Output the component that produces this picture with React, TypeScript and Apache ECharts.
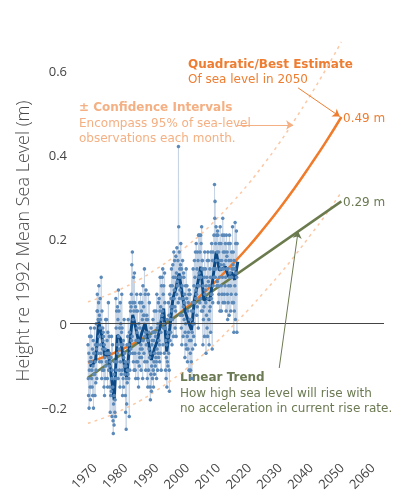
import React, { useEffect, useRef } from "react";
import * as echarts from "echarts";

// Monthly sea level (cm, re 1992 mean), one row per year starting 1968
const firstYear = 1968;
const monthlyCm: number[][] = [
  [-5, -13, -17, -7, -20, -11, -3, -9, -15, -18, -1, -8],
  [-3, -9, -13, -11, -15, -6, -17, -10, -4, -20, -7, -12],
  [-7, -1, -12, -17, -9, -5, -14, -11, 0, -6, -13, 3],
  [7, 3, -5, 1, -7, 5, 9, -3, 2, -9, -1, 6],
  [1, -5, -7, 11, -9, -13, 3, -11, -6, -1, -4, -2],
  [-3, -11, -15, -5, -17, -8, -6, -13, 1, -10, -7, -9],
  [1, -9, -4, -13, -15, -2, -7, 5, -11, -8, -3, -10],
  [-7, -15, -21, -9, -17, -8, -16, -3, -13, -22, -11, -5],
  [-15, -23, -26, -19, -12, -24, -17, -9, -21, -18, -13, -22],
  [6, -1, -11, 3, -9, -5, 4, -7, 1, -13, 8, -3],
  [3, -6, -11, -1, -15, 5, -9, 0, -5, -12, -2, 7],
  [-1, -11, -17, -5, -13, -4, -15, -8, 1, -10, -7, -12],
  [-9, -17, -21, -10, -25, -13, -19, -5, -14, -11, -3, -12],
  [1, -9, -13, -5, -22, -2, -11, 5, -7, 3, -6, 4],
  [7, -4, 14, -3, 17, 5, -7, 1, -9, 11, 3, -11],
  [12, 5, -7, -11, 4, -13, -4, 3, -9, 7, -2, -1],
  [3, -9, -13, -4, -15, 0, -7, -10, 5, -8, -1, -6],
  [7, -5, -11, 3, -8, 5, -6, 1, -13, 9, -4, 2],
  [4, -7, 2, 13, -9, -3, 7, -2, -11, 8, -5, 1],
  [2, -9, -13, 1, -15, -4, 7, -11, -2, -6, 5, -8],
  [-3, -15, -18, -7, -12, -1, -16, -10, -5, -4, -13, -2],
  [1, -11, -15, -4, -9, 3, -12, -7, -2, -10, -3, -8],
  [3, -9, -13, 7, -6, -1, -11, 0, -7, 5, -8, -4],
  [6, -5, -9, 3, 11, -7, 4, -2, -11, 9, 1, 2],
  [11, 3, 13, -5, 7, -1, 9, 0, -7, 12, 5, -1],
  [-1, -11, -4, -13, -8, -5, -15, 1, -9, -3, -10, -2],
  [5, -7, 2, -11, -16, 7, -4, 1, 9, -2, 4, 6],
  [13, 3, -5, 9, 1, 14, 4, 11, -3, 17, 6, 8],
  [15, 4, -1, 11, 3, 16, -3, 12, 7, 18, 9, 10],
  [9, 15, 5, 42, 23, 11, 17, 6, 13, 8, 2, 14],
  [19, 11, -1, 13, -5, 9, 2, 15, 6, -3, 4, 12],
  [11, 1, 5, 7, -8, -2, 9, 0, -5, 13, -6, 6],
  [9, -3, -9, 3, -6, 5, -2, 7, -11, 8, -4, 1],
  [7, -7, -11, 1, -4, -9, 3, -13, -2, 5, -6, 0],
  [13, 3, -3, 9, 0, 15, 5, 11, -5, 17, 6, 8],
  [19, 7, 2, 13, 4, 17, 9, 15, -1, 21, 11, 12],
  [21, 9, 5, 17, 6, 21, 11, 19, 3, 23, 13, 15],
  [15, 3, -5, 9, 1, 13, 4, 11, -3, 17, 7, 8],
  [13, 5, -7, 9, 2, 11, -1, 15, -3, 17, 6, 10],
  [15, 1, -5, 9, 3, 13, 4, 11, -2, 17, 7, 6],
  [19, 7, -6, 15, 5, 17, 9, 13, 11, 21, 13, 33],
  [25, 29, 11, 19, 13, 23, 15, 21, 9, 17, 10, 22],
  [21, 9, 5, 17, 7, 19, 11, 15, 3, 23, 13, 14],
  [19, 9, 3, 15, 7, 21, 11, 25, 5, 17, 13, 14],
  [21, 7, 5, 17, 9, 19, 11, 15, 3, 21, 13, 16],
  [17, 7, 1, 13, 5, 19, 9, 15, 2, 21, 11, 12],
  [19, 9, 3, 15, 7, 17, 11, 13, 5, 23, 13, 14],
  [17, 5, -2, 15, 3, 13, 9, 24, 1, 19, 7, 12],
  [22, 11, -2, 19],
];

// Annual mean sea level (m), 1968..2016
const annualMean = [
  -0.1, -0.098, -0.085, 0.005, -0.03, -0.078, -0.061, -0.12, -0.181, -0.027,
  -0.035, -0.085, -0.127, -0.05, 0.021, -0.01, -0.047, -0.02, 0.001, -0.04,
  -0.086, -0.06, -0.04, 0.0, 0.036, -0.066, -0.01, 0.06, 0.085, 0.119,
  0.07, 0.028, 0.005, -0.015, 0.058, 0.095, 0.135, 0.056, 0.06, 0.056,
  0.11, 0.171, 0.127, 0.13, 0.135, 0.111, 0.122, 0.104, 0.147,
];

// Fitted curves (m)
const fitYears = [1968, 1975, 1980, 1985, 1990, 1995, 2000, 2005, 2010, 2015, 2020, 2025, 2030, 2035, 2040, 2045, 2050];
const quadratic = [-0.092, -0.074, -0.057, -0.038, -0.015, 0.01, 0.039, 0.07, 0.105, 0.143, 0.183, 0.227, 0.273, 0.323, 0.376, 0.431, 0.49];
const upper95 = [0.052, 0.07, 0.087, 0.106, 0.129, 0.154, 0.184, 0.215, 0.251, 0.29, 0.332, 0.379, 0.429, 0.484, 0.542, 0.603, 0.668];
const lower95 = [-0.236, -0.218, -0.201, -0.182, -0.159, -0.134, -0.106, -0.075, -0.041, -0.004, 0.034, 0.075, 0.117, 0.162, 0.21, 0.259, 0.312];
const linearYears = [1968, 2050];
const linearTrend = [-0.128, 0.29];

const xTicks = [1970, 1980, 1990, 2000, 2010, 2020, 2030, 2040, 2050, 2060];
const yTicks = [-0.2, 0, 0.2, 0.4, 0.6];

const FONT = "'Open Sans', 'DejaVu Sans', sans-serif";
const ANN = "'DejaVu Sans', Verdana, sans-serif";
const ORANGE = "#ee7d31";
const ORANGE_LINE = "#f07b2a";
const LIGHT_ORANGE = "#f4b083";
const BAND = "#fcc8a4";
const GREEN = "#6b7a52";
const GREEN_LINE = "#6b7b4e";
const DARK_BLUE = "#0b4a86";

export default function App() {
  const ref = useRef<HTMLDivElement>(null);
  useEffect(() => {
    const chart = echarts.init(ref.current!, null, { renderer: "svg" });
    const monthlyData: number[][] = [];
    monthlyCm.forEach((row, i) =>
      row.forEach((v, m) => monthlyData.push([firstYear + i + (m + 0.5) / 12, v / 100]))
    );
    const annualData = annualMean.map((v, i) => [firstYear + i + 0.5, v]);
    const pair = (xs: number[], ys: number[]) => xs.map((x, i) => [x, ys[i]]);

    const arrow = (a: number[], b: number[], color: string) => [
      { coord: a, symbol: "none", lineStyle: { color, width: 1, type: "solid" }, itemStyle: { color } },
      { coord: b, symbol: "arrow", itemStyle: { color } },
    ];

    const text = (x: number, y: number, t: string, fill: string, bold = false) => ({
      type: "text",
      x,
      y,
      silent: true,
      style: {
        text: t,
        fill,
        font: `${bold ? "bold " : ""}12px ${ANN}`,
        textAlign: "left",
        textVerticalAlign: "middle",
      },
    });

    chart.setOption({
      animation: false,
      grid: { left: 70, right: 20, top: 28.4, bottom: 49.7 },
      xAxis: {
        type: "value",
        min: 1962.2,
        max: 2063.8,
        axisLine: { show: false },
        axisTick: { show: false },
        splitLine: { show: false },
        axisLabel: {
          customValues: xTicks,
          rotate: 45,
          margin: 15,
          color: "#444",
          fontSize: 13,
          fontFamily: FONT,
          formatter: (v: number) => String(Math.round(v)),
        },
      },
      yAxis: {
        type: "value",
        min: -0.3,
        max: 0.7,
        axisLine: { show: false },
        axisTick: { show: false },
        splitLine: { show: false },
        axisLabel: {
          customValues: yTicks,
          margin: 3,
          color: "#444",
          fontSize: 13,
          fontFamily: FONT,
          formatter: (v: number) =>
            Math.abs(v) < 1e-9 ? "0" : (v < 0 ? "\u2212" : "") + Math.abs(v).toFixed(1),
        },
      },
      series: [
        {
          name: "Monthly",
          type: "line",
          data: monthlyData,
          symbol: "circle",
          symbolSize: 3.5,
          itemStyle: { color: "#5b8aba" },
          lineStyle: { color: "#c6d4e5", width: 1 },
          silent: true,
          markLine: {
            silent: true,
            symbol: ["none", "none"],
            label: { show: false },
            lineStyle: { color: "#444", width: 1, type: "solid" },
            data: [{ yAxis: 0 }],
          },
        },
        {
          name: "Upper 95%",
          type: "line",
          data: pair(fitYears, upper95),
          smooth: true,
          showSymbol: false,
          lineStyle: { color: BAND, width: 1.5, type: [3, 4] },
          silent: true,
        },
        {
          name: "Lower 95%",
          type: "line",
          data: pair(fitYears, lower95),
          smooth: true,
          showSymbol: false,
          lineStyle: { color: BAND, width: 1.5, type: [3, 4] },
          silent: true,
        },
        {
          name: "Quadratic",
          type: "line",
          data: pair(fitYears, quadratic),
          smooth: true,
          showSymbol: false,
          lineStyle: { color: ORANGE_LINE, width: 2.5 },
          silent: true,
        },
        {
          name: "Linear",
          type: "line",
          data: pair(linearYears, linearTrend),
          showSymbol: false,
          lineStyle: { color: GREEN_LINE, width: 2.5 },
          silent: true,
          markLine: {
            silent: true,
            symbolSize: 7,
            label: { show: false },
            data: [
              arrow([2036.0, 0.559], [2049.5, 0.491], ORANGE),
              arrow([2016.3, 0.471], [2034.4, 0.471], LIGHT_ORANGE),
              arrow([2029.9, -0.105], [2036.0, 0.219], GREEN),
            ],
          },
        },
        {
          name: "Annual",
          type: "line",
          data: annualData,
          showSymbol: false,
          lineStyle: { color: DARK_BLUE, width: 3 },
          silent: true,
        },
      ],
      graphic: [
        {
          type: "text",
          x: 22,
          y: 241,
          rotation: Math.PI / 2,
          silent: true,
          style: {
            text: "Height re 1992 Mean Sea Level (m)",
            fill: "#4a4a4a",
            font: `300 18px ${FONT}`,
            textAlign: "center",
            textVerticalAlign: "middle",
          },
        },
        text(188, 64, "Quadratic/Best Estimate", ORANGE, true),
        text(188, 79, "Of sea level in 2050", ORANGE),
        text(343, 118, "0.49 m", ORANGE),
        text(79, 107, "\u00b1 Confidence Intervals", LIGHT_ORANGE, true),
        text(79, 123, "Encompass 95% of sea-level", LIGHT_ORANGE),
        text(79, 138, "observations each month.", LIGHT_ORANGE),
        text(343, 202, "0.29 m", GREEN),
        text(180, 377, "Linear Trend", GREEN, true),
        text(180, 393, "How high sea level will rise with", GREEN),
        text(180, 408, "no acceleration in current rise rate.", GREEN),
      ],
    });
    return () => chart.dispose();
  }, []);
  return (
    <div
      ref={ref}
      style={{ position: "fixed", left: 0, top: 0, width: 404, height: 500 }}
    />
  );
}
